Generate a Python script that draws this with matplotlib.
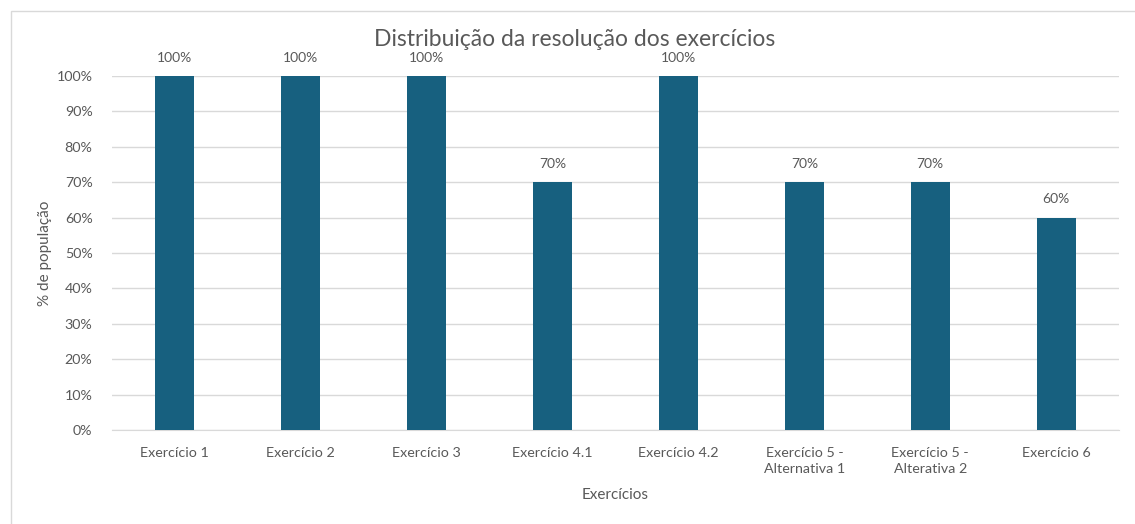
import matplotlib
matplotlib.use("Agg")
import matplotlib.pyplot as plt
from matplotlib.patches import Rectangle
from matplotlib.ticker import FuncFormatter

categories = ["Exercício 1", "Exercício 2", "Exercício 3", "Exercício 4.1",
              "Exercício 4.2", "Exercício 5 -\nAlternativa 1",
              "Exercício 5 -\nAlterativa 2", "Exercício 6"]
values = [1.0, 1.0, 1.0, 0.7, 1.0, 0.7, 0.7, 0.6]
labels = ["100%", "100%", "100%", "70%", "100%", "70%", "70%", "60%"]

plt.rcParams["font.family"] = ["Lato", "DejaVu Sans"]
text_col = "#595959"
bar_col = "#17607f"

fig = plt.figure(figsize=(11.35, 5.24), dpi=100)
ax = fig.add_axes([112 / 1135, 1 - 430 / 524, (1119 - 112) / 1135, (430 - 76) / 524])

# chart area border
fig.patches.append(Rectangle((11 / 1135, -0.1), 1.2, 1 - 11 / 524 + 0.1,
                             transform=fig.transFigure, fill=False,
                             edgecolor="#d9d9d9", linewidth=1))

x = range(len(categories))
ax.bar(x, values, width=0.31, color=bar_col, zorder=3)
for xi, v, lab in zip(x, values, labels):
    ax.text(xi, v + 0.035, lab, ha="center", va="bottom", fontsize=10, color=text_col)

ax.set_xlim(-0.5, len(categories) - 0.5)
ax.set_ylim(0, 1.0)
ax.set_yticks([i / 10 for i in range(11)])
ax.yaxis.set_major_formatter(FuncFormatter(lambda v, p: f"{round(v * 100)}%"))
ax.set_xticks(list(x))
ax.set_xticklabels(categories, linespacing=1.45)
ax.tick_params(axis="both", length=0, colors=text_col, labelsize=10.3)
ax.tick_params(axis="x", pad=12)
ax.tick_params(axis="y", pad=14)
ax.grid(axis="y", color="#d9d9d9", linewidth=1, zorder=0)
ax.set_axisbelow(True)
for s in ["top", "right", "left"]:
    ax.spines[s].set_visible(False)
ax.spines["bottom"].set_color("#d9d9d9")

fig.text(575 / 1135, 1 - 40 / 524, "Distribuição da resolução dos exercícios",
         ha="center", va="center", fontsize=16.5, color=text_col)
fig.text(615 / 1135, 1 - 495 / 524, "Exercícios", ha="center", va="center",
         fontsize=11, color=text_col)
fig.text(45 / 1135, 1 - 253 / 524, "% de população", ha="center", va="center",
         rotation=90, fontsize=11, color=text_col)

fig.savefig("out.png", dpi=100, facecolor="white")
